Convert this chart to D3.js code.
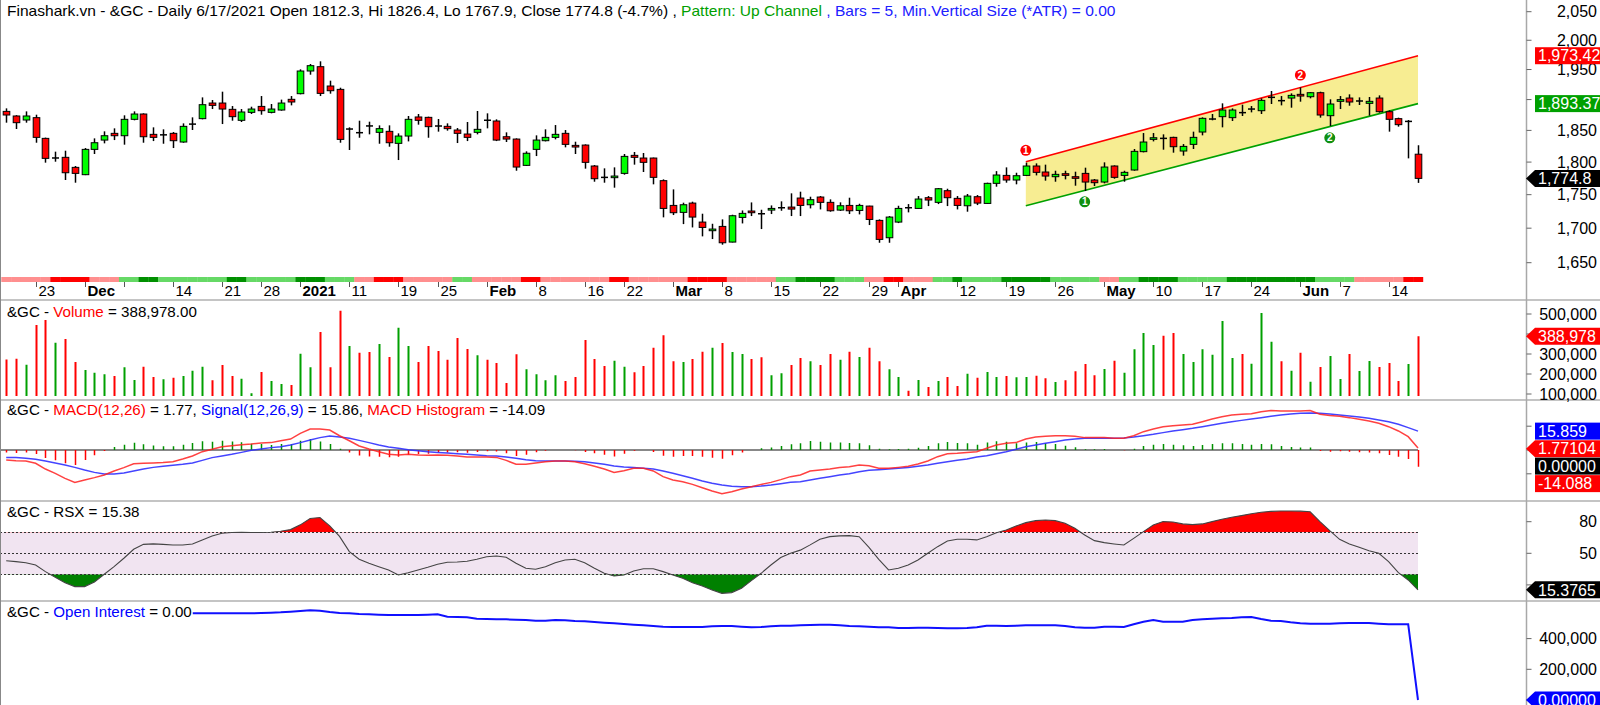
<!DOCTYPE html>
<html><head><meta charset="utf-8">
<script src="https://cdn.jsdelivr.net/npm/d3@7"></script>
<style>
html,body{margin:0;padding:0;background:#fff;overflow:hidden}
svg{display:block;font-family:"Liberation Sans",Arial,sans-serif}
text{white-space:pre}
</style></head><body>
<svg id="c" width="1600" height="705"></svg>
<script>
// ---------------- DATA ----------------
const openP=[1880.7,1873.2,1866.7,1870.5,1837.3,1806.0,1807.4,1791.8,1780.5,1819.9,1834.6,1845.3,1841.5,1867.8,1876.4,1843.7,1842.1,1845.3,1831.5,1859.8,1868.9,1894.3,1894.3,1884.0,1866.2,1879.1,1888.8,1879.1,1882.9,1900.4,1909.7,1947.5,1954.8,1922.4,1916.8,1851.8,1847.4,1857.3,1846.9,1848.5,1829.4,1841.0,1871.6,1871.0,1857.3,1856.5,1850.6,1844.2,1846.9,1866.6,1865.1,1839.9,1836.2,1794.9,1819.9,1833.6,1838.9,1845.3,1826.2,1826.7,1793.9,1776.6,1775.9,1782.5,1810.5,1806.3,1806.3,1771.3,1733.8,1723.4,1737.3,1709.0,1696.3,1702.6,1679.7,1715.9,1725.4,1721.6,1726.8,1730.1,1731.3,1744.9,1734.8,1746.4,1738.4,1726.8,1733.8,1726.3,1732.8,1711.5,1686.0,1709.0,1730.6,1729.3,1745.4,1738.4,1756.0,1744.4,1733.3,1746.9,1736.8,1767.2,1779.4,1772.3,1779.4,1793.9,1784.6,1777.4,1782.0,1777.4,1782.5,1772.3,1769.2,1793.9,1779.4,1787.7,1816.3,1835.7,1837.6,1838.9,1817.3,1827.8,1847.4,1868.0,1872.1,1870.5,1878.9,1884.2,1881.8,1903.4,1898.4,1902.5,1908.6,1904.7,1911.3,1873.7,1897.1,1902.5,1897.4,1893.8,1902.5,1880.2,1868.9,1864.3,1812.3];
const highP=[1885.6,1874.5,1880.7,1875.3,1838.5,1816.3,1817.8,1793.9,1822.0,1837.3,1848.5,1853.3,1874.3,1880.7,1877.5,1854.9,1851.7,1847.4,1861.3,1871.0,1903.6,1899.3,1913.0,1889.4,1884.5,1888.3,1905.8,1892.7,1899.9,1905.8,1950.3,1959.3,1963.9,1931.3,1919.6,1854.9,1865.6,1864.0,1858.1,1858.1,1845.3,1873.2,1876.4,1872.1,1868.3,1861.3,1853.8,1863.5,1881.3,1877.5,1867.8,1846.9,1837.3,1816.8,1842.1,1851.7,1858.6,1850.6,1832.0,1827.8,1795.4,1790.3,1791.8,1812.6,1815.8,1814.2,1807.0,1773.3,1758.0,1737.9,1739.4,1721.4,1706.5,1713.0,1719.9,1726.3,1738.3,1727.3,1733.8,1739.9,1752.0,1754.5,1746.9,1747.9,1742.9,1738.4,1745.4,1736.3,1733.3,1713.0,1717.9,1733.3,1735.8,1747.9,1747.9,1760.1,1759.0,1747.9,1751.0,1749.4,1768.2,1786.0,1791.8,1783.5,1799.1,1798.0,1796.0,1786.6,1786.6,1785.1,1791.3,1773.8,1799.6,1794.9,1786.6,1820.5,1845.8,1845.8,1843.7,1839.9,1828.3,1848.0,1871.0,1876.4,1893.8,1885.6,1891.6,1889.4,1902.0,1914.1,1905.8,1910.2,1920.1,1912.4,1913.0,1900.4,1905.8,1908.6,1903.6,1904.2,1906.9,1882.4,1870.5,1866.7,1826.4];
const lowP=[1862.4,1852.2,1862.4,1830.4,1799.1,1800.6,1772.3,1768.2,1779.8,1812.6,1829.4,1834.6,1827.3,1866.2,1830.4,1833.0,1828.8,1822.0,1830.4,1850.6,1867.8,1884.5,1860.2,1865.6,1863.5,1876.4,1875.3,1877.5,1881.8,1890.5,1908.6,1941.3,1905.8,1909.7,1830.4,1818.9,1838.3,1843.7,1828.8,1824.1,1803.2,1832.5,1859.2,1838.3,1848.0,1849.6,1829.9,1833.0,1843.7,1853.3,1833.0,1831.5,1786.6,1793.9,1809.4,1832.5,1835.7,1823.1,1812.6,1789.8,1769.7,1768.2,1760.6,1780.5,1796.0,1784.6,1765.7,1716.0,1719.4,1706.0,1701.1,1688.0,1684.1,1675.9,1679.2,1707.0,1717.9,1698.7,1720.9,1725.8,1717.9,1717.9,1729.3,1727.8,1724.4,1725.4,1720.9,1720.4,1704.6,1678.7,1678.7,1707.5,1723.4,1728.8,1732.8,1735.8,1732.8,1727.8,1724.4,1734.3,1736.3,1762.1,1768.2,1765.7,1778.4,1779.4,1771.3,1769.7,1773.3,1763.6,1755.5,1763.1,1767.2,1774.3,1769.7,1786.6,1815.2,1832.5,1819.4,1814.7,1810.0,1820.5,1842.1,1866.2,1854.9,1865.1,1873.2,1879.1,1876.4,1892.7,1890.5,1886.7,1896.5,1902.0,1870.5,1857.0,1884.5,1889.9,1891.1,1873.7,1878.6,1848.0,1856.0,1805.8,1767.9];
const closeP=[1874.8,1862.4,1873.2,1838.9,1805.8,1806.8,1783.5,1782.5,1819.9,1830.4,1841.5,1841.5,1867.8,1876.4,1839.9,1838.9,1843.7,1833.6,1856.5,1860.4,1891.6,1890.5,1884.5,1872.1,1879.7,1884.5,1881.8,1884.5,1894.3,1896.0,1947.5,1956.5,1910.2,1914.6,1835.7,1852.6,1845.3,1857.0,1852.8,1830.4,1841.0,1867.8,1866.2,1856.0,1856.8,1852.8,1845.3,1838.9,1851.7,1866.0,1834.6,1836.2,1792.3,1813.8,1834.6,1838.9,1843.7,1827.8,1823.6,1799.6,1774.3,1776.1,1778.4,1808.9,1807.4,1799.6,1776.4,1729.3,1722.9,1734.8,1716.4,1701.1,1698.7,1678.7,1718.4,1721.9,1722.9,1721.1,1729.3,1730.5,1728.3,1733.8,1742.4,1738.4,1725.8,1733.3,1725.8,1733.8,1712.9,1683.6,1716.4,1729.3,1730.0,1743.4,1741.9,1759.0,1745.4,1733.8,1747.9,1737.3,1767.2,1780.0,1772.3,1778.9,1793.9,1784.1,1778.4,1781.0,1779.4,1774.9,1769.2,1768.2,1792.3,1776.4,1784.1,1816.8,1831.5,1838.3,1837.0,1824.1,1824.6,1838.9,1869.4,1868.6,1882.9,1882.9,1878.4,1884.8,1898.7,1903.9,1898.0,1906.9,1905.8,1911.3,1874.8,1892.7,1899.9,1896.0,1897.9,1897.1,1880.2,1867.8,1859.2,1864.6,1774.8];
const volume=[273000,276700,246700,445000,470000,356700,375000,260000,220000,206700,198300,190000,233300,170000,236700,185000,173300,181700,190000,216700,236700,168300,245000,190000,176700,103300,210000,165000,150000,145000,301700,233300,410000,233300,516700,340000,306700,310000,350000,285000,431700,340000,260000,340000,315000,271700,380000,325000,293300,271700,255000,155000,298300,223300,198300,168300,193300,165000,185000,370000,275000,240000,266700,236700,208300,240000,331700,393300,263300,260000,275000,311700,331700,355000,310000,300000,275000,283300,193300,203300,245000,280000,263300,245000,300000,271700,311700,285000,331700,263300,223300,185000,116700,170000,135000,165000,185000,140000,201700,181700,210000,185000,190000,183300,185000,191700,178300,160000,168300,213300,250000,193300,225000,266700,206700,323300,405000,345000,391700,405000,300000,260000,323300,296700,465000,280000,300000,251700,505000,361700,263300,216700,306700,161700,235000,290000,175000,300000,215000,265000,235000,255000,165000,250000,388978];
const macd=[-8.4,-9.0,-9.2,-11.2,-16.0,-19.6,-23.8,-27.2,-25.2,-23.2,-21.0,-17.6,-14.8,-11.5,-11.2,-10.9,-10.6,-9.8,-7.6,-5.0,-1.4,0.6,2.8,3.6,4.5,5.0,5.9,6.2,7.8,9.2,14.0,17.6,17.6,16.8,12.0,7.8,3.4,0.8,-1.4,-3.6,-4.2,-3.6,-4.2,-4.5,-4.2,-4.5,-5.0,-5.9,-5.9,-5.9,-6.2,-8.7,-12.0,-12.0,-10.9,-9.8,-9.2,-9.2,-9.8,-11.5,-13.7,-16.0,-18.8,-17.4,-15.4,-15.4,-17.6,-22.4,-25.2,-26.6,-28.9,-31.7,-34.5,-36.7,-35.0,-32.8,-30.8,-28.9,-27.2,-24.9,-22.4,-21.0,-17.6,-16.8,-16.0,-14.8,-14.0,-12.6,-13.2,-15.4,-15.4,-14.6,-13.7,-11.8,-9.2,-5.6,-3.1,-2.8,-2.0,-1.4,1.4,4.2,5.6,6.2,9.2,10.9,11.5,12.0,12.0,11.5,10.4,10.4,10.6,9.8,9.8,12.0,15.4,17.6,19.6,20.4,21.0,21.6,23.8,26.1,28.0,29.4,30.0,30.5,32.2,33.1,32.8,32.8,32.8,33.1,30.0,28.9,28.3,27.2,25.8,24.4,22.4,19.6,16.0,11.2,1.77];
const signal=[-6.2,-6.4,-7.0,-7.8,-9.2,-10.9,-12.6,-14.6,-16.8,-18.8,-20.2,-20.2,-19.3,-17.6,-16.0,-14.6,-13.7,-12.9,-12.0,-10.9,-8.7,-6.4,-5.0,-3.6,-2.0,-0.3,0.8,2.0,2.8,4.2,6.2,8.4,10.4,11.8,10.9,9.8,8.1,6.2,4.2,2.5,1.4,0.3,-0.6,-1.4,-2.0,-2.5,-3.1,-3.6,-4.2,-4.8,-5.0,-5.9,-7.0,-8.1,-9.0,-9.2,-9.2,-9.2,-9.5,-9.8,-10.9,-12.0,-13.4,-14.3,-14.8,-15.4,-16.0,-17.6,-19.6,-21.6,-23.8,-26.1,-28.0,-29.4,-30.5,-30.8,-30.8,-30.3,-29.4,-28.3,-27.2,-26.6,-25.2,-23.8,-22.4,-21.0,-19.9,-18.2,-17.1,-16.5,-16.0,-15.4,-14.8,-13.7,-12.6,-11.2,-9.8,-8.7,-7.6,-5.9,-4.8,-3.1,-1.4,0.6,2.8,4.2,5.6,7.0,8.4,9.2,9.8,9.8,9.8,9.8,10.1,10.9,12.0,13.2,14.6,16.0,17.1,18.2,19.6,21.0,22.4,23.8,24.9,26.1,27.2,28.3,29.4,30.3,30.8,31.1,30.8,30.3,29.4,28.6,27.7,26.6,25.2,23.8,21.6,18.8,15.86];
const rsx=[43.0,42.1,41.1,38.9,32.6,27.2,22.1,18.4,18.4,22.8,30.1,37.3,45.3,53.8,58.5,58.9,58.5,57.9,57.9,58.9,62.7,66.5,69.0,69.8,69.9,69.8,69.7,70.0,71.0,72.5,77.0,83.0,84.0,76.0,66.0,51.6,44.3,40.5,37.3,34.2,29.4,31.6,34.2,36.7,39.6,41.5,41.8,42.4,44.3,46.8,47.5,46.2,40.5,35.8,34.8,37.3,41.1,43.7,44.3,41.1,35.8,31.0,28.5,29.4,33.2,35.4,35.4,32.6,29.4,26.3,22.1,19.0,15.2,12.0,12.7,16.8,24.0,31.0,38.9,46.0,50.0,53.0,58.0,63.3,65.8,66.5,66.8,65.8,55.7,44.3,34.2,35.8,38.9,43.7,50.0,56.3,61.7,63.3,63.3,62.7,65.8,69.6,72.2,75.9,79.1,81.0,81.6,81.0,78.5,73.7,67.4,62.0,60.1,58.9,57.9,64.2,70.6,76.9,80.1,79.7,77.9,77.2,77.9,80.1,82.3,84.2,85.8,87.5,89.0,89.8,90.2,90.2,90.0,89.4,80.1,71.5,63.3,58.9,55.7,52.5,50.0,42.1,31.6,24.7,15.38];
const openInt=[565000,565000,565000,565000,565000,565000,565000,565000,565000,565000,565000,565000,565000,565000,565000,565000,565000,565000,565000,565000,564600,564600,564600,564600,564600,564600,566800,568900,571100,575400,579800,584100,582000,573300,566800,564600,560200,558100,555900,553700,553700,553700,553700,555900,558100,542900,540700,538500,529800,527700,525500,525500,523300,521200,516800,516800,521200,519000,514600,512500,508100,503800,499400,495100,490800,486400,482100,477700,475600,475600,475600,475600,479900,482100,482100,477700,473400,475600,479900,484200,484200,486400,488600,490800,490800,486400,482100,479900,477700,473400,473400,469000,469000,471200,471200,469000,466900,466900,469000,473400,484200,484200,482100,484200,486400,486400,486400,486400,482100,473400,471200,471200,477700,477700,475600,492900,510300,521200,510300,510300,510300,521200,525500,529800,532000,534200,538500,540700,527700,516800,514600,506000,499400,497300,497300,497300,499400,501600,501600,501600,497300,492900,492900,492900,0];
// trend strip code per bar: 0 light red, 1 red, 2 light green, 3 dark green
const trend=[0,0,0,0,0,1,1,1,1,0,0,0,2,2,3,3,2,2,2,2,2,2,2,3,3,2,2,2,2,2,3,3,3,2,2,2,0,0,1,1,1,0,0,0,0,0,2,2,0,0,0,0,0,1,1,0,0,0,0,0,0,0,1,1,0,0,0,0,0,0,1,1,1,1,0,0,0,0,0,2,2,3,3,3,3,2,2,2,0,0,1,1,0,0,0,2,2,3,2,2,2,2,3,3,3,3,3,2,2,2,2,2,0,0,2,2,3,3,3,3,2,2,2,2,2,3,3,3,3,3,3,3,3,3,2,2,2,2,0,0,0,0,0,1,1];
const tickIdx=[3,8,12,17,22,26,30,35,40,44,49,54,59,63,68,73,78,83,88,91,97,102,107,112,117,122,127,132,136,141];
const tickLbl=["23","Dec","","14","21","28","2021","11","19","25","Feb","8","16","22","Mar","8","15","22","29","Apr","12","19","26","May","10","17","24","Jun","7","14"];
// channel pattern (bar index, price)
const chanIdx=[104,144];
const chanUpper=[1800.5,1973.42];
const chanLower=[1733.3,1893.37];
const pivUpIdx=[104,132], pivUpLbl=["1","2"];
const pivLoIdx=[110,135], pivLoLbl=["1","2"];
const priceTicks=[1650,1700,1750,1800,1850,1900,1950,2000,2050];
const volTicks=[100000,200000,300000,400000,500000];
const rsxTicks=[20,50,80];
const oiTicks=[0,200000,400000];

// ---------------- DRAW ----------------
const svg=d3.select("#c");
const AX=1526.5;
const N=closeP.length;
const xs=d3.scaleLinear().domain([0,144]).range([6.2,1418]);
const yP=d3.scaleLog().domain([1650,2050]).range([262.7,11.7]);
const yV=d3.scaleLinear().domain([100000,500000]).range([394,314]);
const yM=d3.scaleLinear().domain([-20,20]).range([473.8,426.2]);
const yR=d3.scaleLinear().domain([20,80]).range([584.9,521.7]);
const yO=d3.scaleLinear().domain([0,400000]).range([700,638.6]);
const GREEN="#00ff00", RED="#ff0000";

const defs=svg.append("defs");
function clip(id,y0,y1){defs.append("clipPath").attr("id",id).append("rect").attr("x",0).attr("y",y0).attr("width",AX).attr("height",y1-y0);}
clip("cP",0,274);clip("cV",301,396);clip("cM",401,500);clip("cR",502,600);clip("cO",602,705);

svg.append("rect").attr("width",1600).attr("height",705).attr("fill","#fff");

// channel
const gP=svg.append("g").attr("clip-path","url(#cP)");
const poly=[[xs(chanIdx[0]),yP(chanUpper[0])],[xs(chanIdx[1]),yP(chanUpper[1])],[xs(chanIdx[1]),yP(chanLower[1])],[xs(chanIdx[0]),yP(chanLower[0])]];
gP.append("path").attr("d","M"+poly.join("L")+"Z").attr("fill","#f7ed92");
const ln=d3.line().x(d=>xs(d[0])).y(d=>yP(d[1]));
gP.append("path").attr("d",ln(chanIdx.map((d,i)=>[d,chanUpper[i]]))).attr("stroke","#ff0000").attr("stroke-width",1.6).attr("fill","none");
gP.append("path").attr("d",ln(chanIdx.map((d,i)=>[d,chanLower[i]]))).attr("stroke","#00a000").attr("stroke-width",1.6).attr("fill","none");

// candles
for(let i=0;i<N;i++){
  const xc=Math.round(xs(i))+0.5, o=openP[i], c=closeP[i];
  gP.append("line").attr("x1",xc).attr("x2",xc).attr("y1",yP(highP[i])).attr("y2",yP(lowP[i])).attr("stroke","#000").attr("stroke-width",1.5);
  const yt=yP(Math.max(o,c)), yb=yP(Math.min(o,c));
  if(yb-yt<1.6){
    gP.append("line").attr("x1",xc-3.5).attr("x2",xc+3.5).attr("y1",(yt+yb)/2).attr("y2",(yt+yb)/2).attr("stroke","#000").attr("stroke-width",1.5);
  } else {
    gP.append("rect").attr("x",xc-3.3).attr("y",yt).attr("width",6.6).attr("height",yb-yt)
      .attr("fill",c>=o?GREEN:RED).attr("stroke","#000").attr("stroke-width",1);
  }
}
// pivot markers
function chanAt(arr,i){return arr[0]+(arr[1]-arr[0])*(i-chanIdx[0])/(chanIdx[1]-chanIdx[0]);}
pivUpIdx.forEach((d,k)=>{
  const cx=xs(d), cy=yP(chanAt(chanUpper,d))-11.5;
  gP.append("circle").attr("cx",cx).attr("cy",cy).attr("r",5.5).attr("fill","#ff0000");
  gP.append("text").attr("x",cx).attr("y",cy+3.5).attr("text-anchor","middle").attr("fill","#fff").style("font-size","10px").style("font-weight","bold").text(pivUpLbl[k]);
});
pivLoIdx.forEach((d,k)=>{
  const cx=xs(d), cy=yP(chanAt(chanLower,d))+12;
  gP.append("circle").attr("cx",cx).attr("cy",cy).attr("r",5.5).attr("fill","#109010");
  gP.append("text").attr("x",cx).attr("y",cy+3.5).attr("text-anchor","middle").attr("fill","#fff").style("font-size","10px").style("font-weight","bold").text(pivLoLbl[k]);
});

// trend strip
const stripCol=["#ff8f8f","#ff0000","#66d966","#009000"];
trend.forEach((t,i)=>{
  const x0=xs(i-0.5), x1=xs(i+0.5);
  svg.append("rect").attr("x",x0).attr("y",277).attr("width",x1-x0+0.3).attr("height",5).attr("fill",stripCol[t]);
});
// date axis
tickIdx.forEach((d,k)=>{
  const xc=Math.round(xs(d))+0.5;
  svg.append("line").attr("x1",xc).attr("x2",xc).attr("y1",282).attr("y2",287).attr("stroke","#555").attr("stroke-width",1);
  if(tickLbl[k]) svg.append("text").attr("x",xc+2).attr("y",295.5).style("font-size","15px")
     .style("font-weight",/^[0-9]{1,2}$/.test(tickLbl[k])?"normal":"bold").attr("fill","#000").text(tickLbl[k]);
});

// volume
const gV=svg.append("g").attr("clip-path","url(#cV)");
volume.forEach((v,i)=>{
  const xc=Math.round(xs(i))+0.5;
  gV.append("line").attr("x1",xc).attr("x2",xc).attr("y1",yV(v)).attr("y2",396).attr("stroke",closeP[i]>=openP[i]?"#00a000":"#ff0000").attr("stroke-width",2);
});

// MACD
const gM=svg.append("g").attr("clip-path","url(#cM)");
gM.append("line").attr("x1",0).attr("x2",xs(N-1)).attr("y1",yM(0)).attr("y2",yM(0)).attr("stroke","#888").attr("stroke-width",2);
macd.forEach((m,i)=>{
  const h=m-signal[i], xc=Math.round(xs(i))+0.5;
  gM.append("line").attr("x1",xc).attr("x2",xc).attr("y1",yM(0)).attr("y2",yM(h)).attr("stroke",h>=0?"#009000":"#ff0000").attr("stroke-width",1.5);
});
const lM=d3.line().x((d,i)=>xs(i)).y(d=>yM(d));
gM.append("path").attr("d",lM(signal)).attr("fill","none").attr("stroke","#3030ff").attr("stroke-width",1.5).attr("opacity",0.9);
gM.append("path").attr("d",lM(macd)).attr("fill","none").attr("stroke","#ff2020").attr("stroke-width",1.5).attr("opacity",0.85);

// RSX
const gR=svg.append("g").attr("clip-path","url(#cR)");
gR.append("rect").attr("x",0).attr("y",yR(70)).attr("width",xs(N-1)).attr("height",yR(30)-yR(70)).attr("fill","#f1e4f1");
defs.append("clipPath").attr("id","cHi").append("rect").attr("x",0).attr("y",0).attr("width",AX).attr("height",yR(70));
defs.append("clipPath").attr("id","cLo").append("rect").attr("x",0).attr("y",yR(30)).attr("width",AX).attr("height",705-yR(30));
const aHi=d3.area().x((d,i)=>xs(i)).y0(yR(70)).y1(d=>yR(d));
const aLo=d3.area().x((d,i)=>xs(i)).y0(yR(30)).y1(d=>yR(d));
gR.append("g").attr("clip-path","url(#cHi)").append("path").attr("d",aHi(rsx)).attr("fill","#ff0000");
gR.append("g").attr("clip-path","url(#cLo)").append("path").attr("d",aLo(rsx)).attr("fill","#008000");
[70,50,30].forEach(v=>gR.append("line").attr("x1",0).attr("x2",xs(N-1)).attr("y1",Math.round(yR(v))+0.5).attr("y2",Math.round(yR(v))+0.5).attr("stroke","#333").attr("stroke-dasharray","2,2"));
gR.append("path").attr("d",d3.line().x((d,i)=>xs(i)).y(d=>yR(d))(rsx)).attr("fill","none").attr("stroke","#444").attr("stroke-width",1.1);

// Open interest
const gO=svg.append("g").attr("clip-path","url(#cO)");
gO.append("path").attr("d",d3.line().x((d,i)=>xs(i)).y(d=>yO(d))(openInt)).attr("fill","none").attr("stroke","#1010ff").attr("stroke-width",2);

// separators & borders
[300,400,501,601].forEach(y=>svg.append("line").attr("x1",0).attr("x2",1600).attr("y1",y).attr("y2",y).attr("stroke","#c4c4c4").attr("stroke-width",2));
svg.append("line").attr("x1",AX).attr("x2",AX).attr("y1",0).attr("y2",705).attr("stroke","#a8a8a8").attr("stroke-width",1.5);
svg.append("line").attr("x1",0.5).attr("x2",0.5).attr("y1",0).attr("y2",705).attr("stroke","#888").attr("stroke-width",1);

// titles
function title(y,parts,fitWidth){
  const g=svg.append("g");
  const bg=g.append("rect").attr("fill","#fff");
  const t=g.append("text").attr("x",7).attr("y",y).style("font-size","15.15px");
  parts.forEach(p=>t.append("tspan").attr("fill",p[1]).text(p[0]));
  if(fitWidth){const w=t.node().getComputedTextLength(); t.style("font-size",(15.15*fitWidth/w).toFixed(2)+"px");}
  const b=t.node().getBBox(); bg.attr("x",b.x-1).attr("y",b.y).attr("width",b.width+2).attr("height",b.height);
}
title(15.5,[["Finashark.vn - &GC - Daily 6/17/2021 Open 1812.3, Hi 1826.4, Lo 1767.9, Close 1774.8 (-4.7%) , ","#000"],["Pattern: Up Channel","#00a000"],[" , Bars = 5, Min.Vertical Size (*ATR) = 0.00","#2020ff"]],1108);
title(316.5,[["&GC - ","#000"],["Volume","#ff0000"],[" = 388,978.00","#000"]]);
title(415,[["&GC - ","#000"],["MACD(12,26)","#ff0000"],[" = 1.77, ","#000"],["Signal(12,26,9)","#0000ff"],[" = 15.86, ","#000"],["MACD Histogram","#ff0000"],[" = -14.09","#000"]]);
title(517,[["&GC - RSX = 15.38","#000"]]);
title(616.5,[["&GC - ","#000"],["Open Interest","#0000ff"],[" = 0.00","#000"]]);

// value boxes
const f0=d3.format(",");
function vbox(y,txt,col,arrow){
  const h=17, x0=arrow?1526:1535;
  if(arrow) svg.append("path").attr("d",`M${x0},${y}L${x0+9},${y-h/2}L1600,${y-h/2}L1600,${y+h/2}L${x0+9},${y+h/2}Z`).attr("fill",col);
  else svg.append("rect").attr("x",x0).attr("y",y-h/2).attr("width",1600-x0).attr("height",h).attr("fill",col);
  svg.append("text").attr("x",1538).attr("y",y).attr("dy","0.36em").style("font-size","16px").attr("fill","#fff").text(txt);
}
const boxDefs=[];
boxDefs.push([yP(chanUpper[1]),"1,973.42","#ff0000",false]);
boxDefs.push([yP(chanLower[1]),"1,893.37","#00a000",false]);
boxDefs.push([yP(closeP[N-1]),"1,774.8","#000",true]);
boxDefs.push([yV(volume[N-1]),"388,978","#ff0000",true]);
(function(){
  const items=[[signal[N-1],"15.859","#0000ff",false],[macd[N-1],"1.77104","#ff0000",true],[0,"0.00000","#000",false],[macd[N-1]-signal[N-1],"-14.088","#ff0000",false]];
  let prev=-1e9;
  items.forEach(it=>{let y=yM(it[0]); if(y<prev+17.5) y=prev+17.5; prev=y; boxDefs.push([y,it[1],it[2],it[3]]);});
})();
boxDefs.push([yR(rsx[N-1]),"15.3765","#000",true]);
boxDefs.push([yO(openInt[N-1]),"0.00000","#0000ff",true]);
function raxis(scale,ticks,show){
  ticks.forEach(v=>{
    const y=scale(v);
    svg.append("line").attr("x1",AX).attr("x2",AX+5).attr("y1",y).attr("y2",y).attr("stroke","#666");
    const covered=boxDefs.some(b=>Math.abs(b[0]-y)<10);
    if(show && !covered) svg.append("text").attr("x",1597).attr("y",y).attr("dy","0.36em").attr("text-anchor","end").style("font-size","16px").attr("fill","#000").text(f0(v));
  });
}
raxis(yP,priceTicks,true);
raxis(yV,volTicks,true);
raxis(yM,[-20,0,20],false);
raxis(yR,rsxTicks,true);
raxis(yO,oiTicks,true);
boxDefs.forEach(b=>vbox(b[0],b[1],b[2],b[3]));
</script>
</body></html>
